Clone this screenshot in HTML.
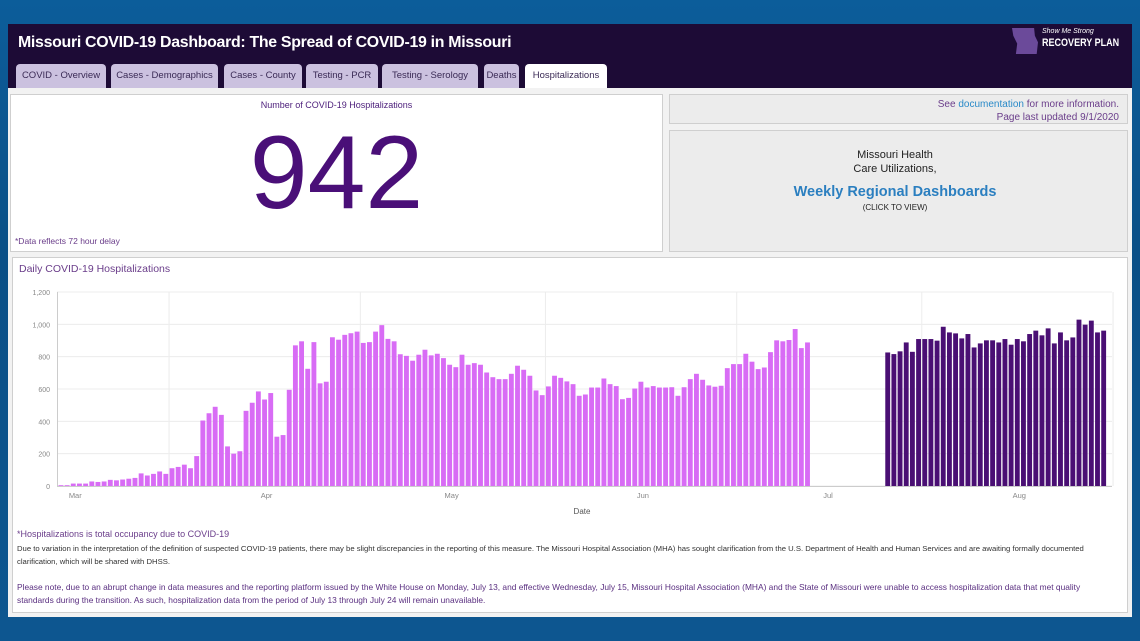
<!DOCTYPE html>
<html><head><meta charset="utf-8">
<style>
*{box-sizing:border-box;margin:0;padding:0}
body{width:1140px;height:641px;overflow:hidden;font-family:"Liberation Sans",sans-serif;background:linear-gradient(180deg,#0c5d9a 0%,#0b4f86 40%,#0d5690 100%);position:relative}
.abs{position:absolute}
#dash{left:8px;top:24px;width:1124px;height:593px;background:#f2f2f2}
#hdr{left:0;top:0;width:1124px;height:64px;background:#1d0b36}
#title{left:10px;top:10px;color:#fff;font-size:15.9px;font-weight:bold;letter-spacing:-0.3px;white-space:nowrap}
.tab{top:40px;height:24px;background:#cbc1df;color:#3a2a55;font-size:9.5px;line-height:24px;text-align:center;border-radius:4px 4px 0 0;white-space:nowrap}
.tab.on{background:#fff}
.box{background:#fff;border:1px solid #cfcfcf}
.note{font-size:7.7px;color:#333;line-height:13px;white-space:nowrap}
</style></head><body>
<div id="dash" class="abs">
 <div id="hdr" class="abs">
  <div id="title" class="abs">Missouri COVID-19 Dashboard: The Spread of COVID-19 in Missouri</div>
  <div class="abs" style="left:1004px;top:4px;width:26px;height:26px;background:#6b4a9a;clip-path:polygon(0 0,85% 0,88% 30%,100% 55%,95% 100%,15% 100%,20% 60%,5% 30%)"></div>
  <div class="abs" style="left:1034px;top:4px;color:#fff;font-size:7px;font-style:italic;white-space:nowrap">Show Me Strong</div>
  <div class="abs" style="left:1034px;top:13px;color:#fff;font-size:11px;font-weight:bold;transform:scaleX(0.82);transform-origin:left;white-space:nowrap">RECOVERY PLAN</div>
  <div class="abs tab" style="left:8px;width:90px">COVID - Overview</div>
  <div class="abs tab" style="left:103px;width:107px">Cases - Demographics</div>
  <div class="abs tab" style="left:216px;width:78px">Cases - County</div>
  <div class="abs tab" style="left:298px;width:72px">Testing - PCR</div>
  <div class="abs tab" style="left:374px;width:96px">Testing - Serology</div>
  <div class="abs tab" style="left:476px;width:35px">Deaths</div>
  <div class="abs tab on" style="left:517px;width:82px">Hospitalizations</div>
 </div>
 <div class="abs box" style="left:2px;top:70px;width:653px;height:158px">
  <div class="abs" style="left:0;width:651px;top:5px;text-align:center;font-size:9px;color:#4b1d7a">Number of COVID-19 Hospitalizations</div>
  <div class="abs" style="left:0;width:651px;top:18px;text-align:center;font-size:104px;color:#4a0f78;line-height:120px">942</div>
  <div class="abs" style="left:4px;top:141px;font-size:8.5px;color:#6a3d8a">*Data reflects 72 hour delay</div>
 </div>
 <div class="abs" style="left:661px;top:70px;width:459px;height:30px;background:#ececec;border:1px solid #cfcfcf">
  <div class="abs" style="right:8px;top:3px;font-size:10px;color:#6a3d8a;text-align:right;line-height:13px;white-space:nowrap">See <span style="color:#2a8ac8">documentation</span> for more information.<br>Page last updated 9/1/2020</div>
 </div>
 <div class="abs" style="left:661px;top:106px;width:459px;height:122px;background:#ececec;border:1px solid #cfcfcf">
  <div class="abs" style="left:0;width:450px;top:17px;text-align:center;font-size:11px;color:#222;line-height:14px">Missouri Health<br>Care Utilizations,</div>
  <div class="abs" style="left:0;width:450px;top:53px;text-align:center;font-size:14.5px;font-weight:bold;color:#2b7fc0">Weekly Regional Dashboards</div>
  <div class="abs" style="left:0;width:450px;top:72px;text-align:center;font-size:8px;color:#222">(CLICK TO VIEW)</div>
 </div>
 <div class="abs box" style="left:4px;top:233px;width:1116px;height:356px">
  <div class="abs" style="left:6px;top:5px;font-size:10.5px;color:#6a3d8a">Daily COVID-19  Hospitalizations</div>
  <div class="abs" style="left:4px;top:271px;font-size:9px;color:#6a3d8a">*Hospitalizations is total occupancy due to COVID-19</div>
  <div class="abs note" style="left:4px;top:284px">Due to variation in the interpretation of the definition of suspected COVID-19 patients, there may be slight discrepancies in the reporting of this measure. The Missouri Hospital Association (MHA) has sought clarification from the U.S. Department of Health and Human Services and are awaiting formally documented<br>clarification, which will be shared with DHSS.</div>
  <div class="abs note" style="left:4px;top:323px;color:#5a2f80;font-size:8.4px">Please note, due to an abrupt change in data measures and the reporting platform issued by the White House on Monday, July 13, and effective Wednesday, July 15, Missouri Hospital Association (MHA) and the State of Missouri were unable to access hospitalization data that met quality<br>standards during the transition. As such, hospitalization data from the period of July 13 through July 24 will remain unavailable.</div>
 </div>
</div>
<svg class="abs" style="left:0;top:0" width="1140" height="641" id="chart"></svg>
<script>
const yTicks=[0,200,400,600,800,1000,1200];
const monthLabels=["Mar","Apr","May","Jun","Jul","Aug"];
const monthStartDay=[0,31,61,92,122,153];
const pinkStartDay=0;
const pinkValues=[5,5,15,15,15,28,25,28,38,35,40,45,50,78,65,75,90,75,110,118,132,110,185,405,450,490,440,245,200,215,465,515,585,535,575,305,315,595,870,895,725,890,635,645,920,905,935,945,955,885,890,955,995,910,895,815,805,775,
812,843,808,818,791,750,735,812,750,760,750,702,673,661,661,694,744,719,682,591,562,616,682,669,647,630,558,566,609,609,665,630,618,537,545,603,645,609,618,609,609,611,558,611,661,694,657,622,614,620,729,754,754,818,769,723,733,828,901,895,903,971,853,888];
const darkStartDay=134;
const darkValues=[826,816,833,888,830,909,909,909,899,985,950,944,913,940,857,882,901,901,888,909,874,909,895,940,961,932,975,882,950,901,919,1029,998,1023,950,961];
const NS="http://www.w3.org/2000/svg";
const svg=document.getElementById('chart');
const X0=58,STEP=6.17,Y0=486,YMAX=1200,PH=194;
function xs(d){return X0+d*STEP;}
function ys(v){return Y0-v/YMAX*PH;}
function mk(t,a){const e=document.createElementNS(NS,t);for(const k in a)e.setAttribute(k,a[k]);svg.appendChild(e);return e;}
yTicks.forEach(v=>{
 const g=mk('line',{x1:57,x2:1112,y1:ys(v),y2:ys(v),stroke:'#ececec','stroke-width':1});
 
 
 const t=mk('text',{x:50,y:ys(v)+3,'text-anchor':'end','font-size':7,fill:'#888','font-family':'Liberation Sans, sans-serif'});
 t.textContent=v.toLocaleString('en-US');
 
 
});
monthStartDay.forEach((d,i)=>{
 const g=mk('line',{x1:xs(d+18),x2:xs(d+18),y1:ys(YMAX),y2:Y0,stroke:'#ececec','stroke-width':1});
 
 
 const t=mk('text',{x:xs(d+2.8),y:Y0+12,'text-anchor':'middle','font-size':7.5,fill:'#888','font-family':'Liberation Sans, sans-serif'});
 t.textContent=monthLabels[i];
 
 
});
const ax=mk('line',{x1:57.5,x2:57.5,y1:ys(YMAX),y2:Y0,stroke:'#ccc'});


const bx=mk('line',{x1:57,x2:1112,y1:Y0+0.5,y2:Y0+0.5,stroke:'#ccc'});


function bars(vals,start,color,name){
 vals.forEach((v,i)=>{
  const d=start+i;
  const r=mk('rect',{x:xs(d)+0.5,y:ys(v),width:STEP-1.3,height:Y0-ys(v),fill:color});
  
  
 });
}
bars(pinkValues,pinkStartDay,'#d86cf5','bar-pre-july');
bars(darkValues,darkStartDay,'#4a0f74','bar-post-july');
const xt=mk('text',{x:582,y:514,'text-anchor':'middle','font-size':8,fill:'#555','font-family':'Liberation Sans, sans-serif'});
xt.textContent='Date';


</script>
</body></html>
